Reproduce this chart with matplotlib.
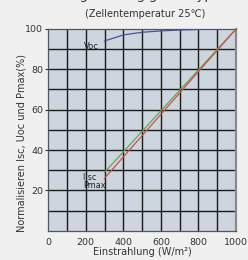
import numpy as np
import matplotlib
matplotlib.use('Agg')
import matplotlib.pyplot as plt

# Daten
einstrahlung = [300, 400, 500, 600, 700, 800, 900, 1000]
voc = [94.0, 97.0, 98.3, 99.0, 99.4, 99.7, 99.9, 100.0]
isc = [29.0, 39.1, 49.3, 59.4, 69.6, 79.7, 89.9, 100.0]
pmax = [26.0, 36.6, 47.1, 57.7, 68.3, 78.9, 89.4, 100.0]

x_ticks = [0, 200, 400, 600, 800, 1000]
y_ticks = [20, 40, 60, 80, 100]

plt.rcParams['font.family'] = ['DejaVu Sans']
fig = plt.figure(figsize=(2.48, 2.60), dpi=100, facecolor='#eff0ef')
ax = fig.add_axes([0.194, 0.112, 0.758, 0.777], facecolor='#cdd6de')

# Gitter: alle 100 W/m² und alle 10 %
for gx in np.arange(100, 1000, 100):
    ax.axvline(gx, color='#1a1a1a', lw=1.0, zorder=1)
for gy in np.arange(10, 100, 10):
    ax.axhline(gy, color='#1a1a1a', lw=1.0, zorder=1)

ax.plot(einstrahlung, voc, color='#4b509c', lw=0.9, zorder=3)
ax.plot(einstrahlung, isc, color='#5aa860', lw=0.9, zorder=3)
ax.plot(einstrahlung, pmax, color='#d0503e', lw=0.9, zorder=3)

ax.set_xlim(0, 1000)
ax.set_ylim(0, 100)
ax.set_xticks(x_ticks)
ax.set_yticks(y_ticks)
ax.tick_params(axis='x', length=0, pad=5, labelsize=6.8, colors='#333333')
ax.tick_params(axis='y', length=2.5, pad=1, labelsize=6.8, colors='#333333')

for s in ['left', 'bottom', 'top']:
    ax.spines[s].set_color('#555555')
    ax.spines[s].set_linewidth(0.9)
ax.spines['right'].set_color('#8a8a8a')
ax.spines['right'].set_linewidth(1.6)

ax.text(188, 91.5, 'Voc', fontsize=6, color='#222222', ha='left', va='center',
        zorder=4)
ax.text(185, 26.5, 'I sc', fontsize=5.8, color='#222222', ha='left', va='center',
        zorder=4)
ax.text(185, 22.5, 'Pmax', fontsize=5.8, color='#222222', ha='left', va='center',
        zorder=4)

ax.set_xlabel('Einstrahlung (W/m²)', fontsize=7, color='#333333', labelpad=0)
ax.set_ylabel('Normalisieren Isc, Uoc und Pmax(%)', fontsize=7, color='#333333')
ax.yaxis.set_label_coords(-0.115, 0.435)

fig.text(0.585, 0.945, '(Zellentemperatur 25℃)', fontsize=7, color='#333333',
         ha='center', va='center')
fig.text(0.5, 1.0 + 1.5 / 260, 'Einstrahlungsabhängigkeit (typisch)', fontsize=9.5,
         color='#333333', ha='center', va='baseline')

fig.savefig('out.png', dpi=100, facecolor=fig.get_facecolor())
